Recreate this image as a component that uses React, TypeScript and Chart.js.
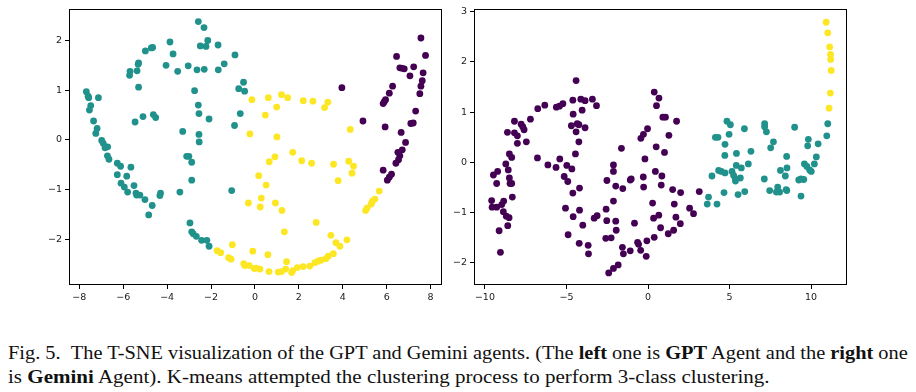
import React, { useEffect, useLayoutEffect, useRef } from "react";
import { Chart, registerables } from "chart.js";

Chart.register(...registerables);

// ---------- colours (viridis, 3 clusters) ----------
const PURPLE = "#440154";
const TEAL = "#21918c";
const YELLOW = "#fde725";

// ---------- left panel (GPT agent) ----------
const gptTeal: number[][] = [
  [-2.58, 2.38], [-2.32, 2.26], [-3.87, 1.97], [-2.15, 2.0], [-2.49, 1.89], [-2.23, 1.88], [-1.68, 1.91],
  [-4.66, 1.86], [-4.72, 1.85], [-4.99, 1.79], [-3.73, 1.73], [-0.91, 1.71], [-5.3, 1.55], [-5.32, 1.52],
  [-4.05, 1.5], [-3.04, 1.49], [-1.4, 1.53], [-5.69, 1.38], [-5.37, 1.39], [-3.52, 1.38], [-2.64, 1.41],
  [-2.31, 1.42], [-1.67, 1.41], [-5.71, 1.3], [-0.52, 1.16], [-0.74, 1.03], [-0.47, 0.98], [-5.3, 1.06],
  [-2.75, 0.99], [-7.68, 0.97], [-7.6, 0.88], [-7.57, 0.85], [-7.13, 0.85], [-7.48, 0.69], [-7.54, 0.6],
  [-2.58, 0.7], [-2.55, 0.53], [-0.67, 0.53], [-5.1, 0.47], [-4.63, 0.51], [-4.52, 0.45], [-2.09, 0.42],
  [-7.35, 0.38], [-5.46, 0.36], [-0.93, 0.29], [-7.19, 0.23], [-7.25, 0.13], [-3.29, 0.17], [-2.55, 0.11],
  [-6.98, -0.01], [-6.91, -0.07], [-6.71, -0.14], [-2.54, -0.04], [-6.83, -0.16], [-6.72, -0.32],
  [-6.65, -0.39], [-3.11, -0.33], [-3.01, -0.33], [-2.88, -0.45], [-6.27, -0.47], [-6.12, -0.53],
  [-5.65, -0.55], [-6.27, -0.7], [-5.84, -0.73], [-6.1, -0.87], [-5.95, -0.95], [-5.51, -0.92],
  [-5.8, -1.05], [-5.42, -1.07], [-5.39, -1.11], [-5.24, -1.11], [-5.01, -1.2], [-2.88, -0.81],
  [-3.42, -1.05], [-1.06, -1.02], [-4.3, -1.07], [-4.33, -1.12], [-4.68, -1.32], [-4.84, -1.51],
  [-2.96, -1.67], [-2.88, -1.85], [-2.81, -1.89], [-2.67, -1.94], [-2.43, -2.02], [-2.19, -2.02], [-2.09, -2.14],
];

const gptYellow: number[][] = [
  [-0.14, 0.81], [-0.23, 0.12], [-0.3, -1.27], [-1.72, -2.23], [-1.56, -2.27], [-1.03, -2.11], [-1.2, -2.37],
  [-1.09, -2.4], [-0.51, -2.49], [-0.46, -2.53], [-0.26, -2.53], [-0.1, -2.24], [-0.03, -2.59], [1.72, -0.25],
  [0.91, -0.34], [0.65, -0.44], [2.13, -0.42], [2.58, -0.47], [3.58, -0.49], [4.27, -0.43], [4.49, -0.53],
  [4.42, -0.67], [0.17, -0.72], [0.51, -0.91], [3.79, -0.82], [0.29, -1.17], [0.24, -1.35], [0.93, -1.27],
  [1.23, -1.42], [2.79, -1.66], [1.34, -1.85], [3.46, -1.92], [3.69, -2.07], [3.87, -2.14], [4.19, -2.01],
  [0.59, -2.31], [5.66, -1.03], [5.46, -1.19], [5.34, -1.24], [5.3, -1.29], [5.11, -1.37], [5.04, -1.42],
  [0.05, -2.58], [0.23, -2.6], [0.64, -2.65], [1.06, -2.66], [1.21, -2.65], [1.4, -2.6], [1.44, -2.45],
  [1.67, -2.67], [1.72, -2.63], [1.93, -2.57], [2.2, -2.55], [2.5, -2.54], [2.73, -2.47], [2.88, -2.44],
  [3.01, -2.42], [3.23, -2.39], [3.34, -2.34], [3.57, -2.29], [0.61, 0.85], [1.21, 0.91], [1.49, 0.85],
  [0.99, 0.66], [2.2, 0.79], [2.64, 0.78], [3.32, 0.76], [3.17, 0.65], [0.47, 0.5], [1.0, 0.06], [4.34, 0.21],
];

const gptPurple: number[][] = [
  [6.86, -0.05], [6.71, -0.2], [6.51, -0.25], [6.6, -0.32], [6.54, -0.4], [6.42, -0.47], [5.84, -0.61],
  [6.22, -0.69], [6.12, -0.75], [6.03, -0.81], [7.56, 2.05], [6.45, 1.68], [7.77, 1.7], [6.6, 1.45],
  [6.71, 1.44], [6.8, 1.43], [7.23, 1.47], [7.06, 1.29], [7.66, 1.35], [7.62, 1.19], [7.56, 1.08],
  [6.27, 1.08], [6.12, 0.94], [5.95, 0.81], [5.89, 0.77], [5.84, 0.73], [7.51, 0.93], [3.96, 1.05],
  [7.32, 0.58], [4.92, 0.38], [5.93, 0.26], [7.1, 0.33], [7.21, 0.34], [6.66, 0.15],
];

// ---------- right panel (Gemini agent) ----------
const gemPurple: number[][] = [
  [-4.41, 1.63], [-8.62, 0.6], [-8.19, 0.82], [-8.19, 0.59], [-7.78, 0.76], [-7.68, 0.71], [-7.6, 0.65],
  [-8.01, 0.53], [-8.01, 0.38], [-7.46, 0.41], [-7.21, 0.86], [-6.76, 1.07], [-6.33, 1.14], [-5.62, 1.1],
  [-5.43, 1.12], [-5.22, 1.17], [-4.61, 1.24], [-4.59, 0.96], [-4.12, 1.26], [-3.86, 1.23], [-3.41, 1.26],
  [-4.04, 1.04], [-3.16, 1.13], [-4.7, 0.73], [-4.34, 0.77], [-4.24, 0.75], [-3.86, 0.69], [-4.41, 0.61],
  [-4.24, 0.41], [-1.63, 0.28], [0.38, 1.4], [0.67, 1.28], [0.52, 1.13], [-0.44, 0.48], [-0.28, 0.56],
  [-0.03, 0.67], [0.5, 0.31], [0.91, 0.9], [1.07, 0.9], [1.75, 0.82], [1.28, 0.54], [1.01, 0.2],
  [0.45, -0.18], [0.85, -0.27], [0.81, -0.45], [1.51, -0.54], [2.0, -0.6], [3.14, -0.58], [0.28, -0.81],
  [1.61, -0.83], [0.66, -1.05], [0.34, -1.11], [1.71, -1.09], [2.55, -0.91], [2.79, -1.02], [1.98, -1.22],
  [0.77, -1.3], [1.57, -1.35], [1.24, -1.42], [0.38, -1.49], [-8.5, 0.17], [-8.36, 0.1], [-8.72, -0.03],
  [-6.78, 0.09], [-6.14, -0.05], [-5.64, -0.1], [-5.41, 0.07], [-4.45, 0.17], [-4.98, -0.06], [-4.67, -0.13],
  [-5.14, -0.28], [-4.92, -0.38], [-9.48, -0.25], [-9.22, -0.18], [-8.57, -0.15], [-8.5, -0.31],
  [-9.28, -0.42], [-8.46, -0.42], [-8.36, -0.42], [-8.32, -0.69], [-4.61, -0.61], [-4.2, -0.51],
  [-9.59, -0.76], [-9.56, -0.89], [-9.28, -0.89], [-8.97, -0.84], [-8.85, -0.77], [-8.87, -0.98],
  [-8.69, -1.07], [-8.52, -1.1], [-8.6, -1.26], [-9.13, -1.36], [-9.05, -1.79], [-5.06, -0.91], [-4.2, -0.95],
  [-4.59, -1.08], [-4.0, -1.25], [-4.9, -1.44], [-4.22, -1.61], [-3.67, -1.65], [-3.65, -1.82], [-3.3, -1.11],
  [-3.12, -1.06], [-2.52, -0.36], [-2.12, -0.05], [-2.12, -0.18], [-1.98, -0.47], [-1.55, -0.52],
  [-2.12, -0.77], [-2.57, -0.93], [-2.53, -1.16], [-1.98, -1.17], [-1.95, -1.35], [-2.59, -1.51],
  [-2.26, -1.5], [-1.09, -0.35], [-1.03, -0.33], [-0.29, -0.29], [-0.27, -0.49], [-0.19, 0.07],
  [-0.83, -1.21], [-1.57, -1.69], [-1.51, -1.82], [-1.09, -1.76], [-0.64, -1.59], [-0.58, -1.63],
  [-0.45, -1.75], [-0.07, -1.56], [-0.11, -1.87], [-2.41, -2.2], [-2.12, -2.11], [-1.83, -2.04],
];

const gemTeal: number[][] = [
  [4.84, 0.82], [5.05, 0.75], [5.91, 0.67], [7.15, 0.77], [7.15, 0.71], [7.26, 0.61], [8.99, 0.7],
  [11.02, 0.77], [10.96, 0.53], [4.13, 0.5], [4.29, 0.5], [4.97, 0.56], [4.72, 0.36], [7.69, 0.41],
  [7.52, 0.29], [9.83, 0.46], [9.79, 0.33], [10.43, 0.37], [6.31, 0.22], [5.42, 0.18], [4.71, 0.14],
  [3.92, -0.27], [4.33, -0.16], [4.49, -0.18], [4.72, -0.21], [3.71, -0.69], [3.63, -0.83], [4.23, -0.83],
  [4.66, -0.6], [5.15, -0.18], [5.25, -0.26], [5.36, -0.33], [5.36, -0.37], [5.41, -0.06], [5.72, -0.11],
  [5.66, -0.31], [6.15, -0.03], [5.52, -0.64], [5.93, -0.58], [7.13, -0.33], [8.5, 0.12], [8.12, -0.16],
  [8.52, -0.11], [8.42, -0.27], [7.46, -0.56], [7.95, -0.49], [7.87, -0.59], [8.07, -0.59], [8.47, -0.54],
  [8.51, -0.56], [10.32, 0.11], [9.59, -0.03], [9.74, -0.08], [10.2, -0.03], [9.91, -0.15], [10.01, -0.18],
  [9.24, -0.35], [9.38, -0.33], [9.55, -0.34], [9.38, -0.67],
];

const gemYellow: number[][] = [
  [10.92, 2.79], [11.02, 2.58], [11.14, 2.3], [11.19, 2.15], [11.2, 2.05], [11.23, 1.83], [11.18, 1.38], [11.1, 1.08],
];

// ---------- axes ----------
const gptXTicks = [-8, -6, -4, -2, 0, 2, 4, 6, 8];
const gptYTicks = [-2, -1, 0, 1, 2];
const gptXRange = [-8.47, 8.52];
const gptYRange = [-2.92, 2.64];

const gemXTicks = [-10, -5, 0, 5, 10];
const gemYTicks = [-2, -1, 0, 1, 2, 3];
const gemXRange = [-10.67, 12.2];
const gemYRange = [-2.44, 3.06];

const fmt = (v: number | string) => {
  const n = Number(v);
  return n < 0 ? "\u2212" + Math.abs(n) : String(n);
};

function makeScale(ticks: number[], range: number[], fitSize: number, isX: boolean) {
  return {
    type: "linear",
    min: range[0],
    max: range[1],
    afterBuildTicks: (s: any) => {
      s.ticks = ticks.map((v) => ({ value: v }));
    },
    afterFit: (s: any) => {
      if (isX) s.height = fitSize;
      else s.width = fitSize;
    },
    grid: {
      display: true,
      drawOnChartArea: false,
      drawTicks: true,
      tickLength: 4,
      tickColor: "#000",
      tickWidth: 1,
    },
    border: { display: false },
    ticks: {
      color: "#1a1a1a",
      font: { family: "DejaVu Sans", size: 9.5 },
      padding: 3,
      autoSkip: false,
      maxRotation: 0,
      callback: fmt,
    },
  };
}

const framePlugin = {
  id: "frame",
  afterDraw(chart: any) {
    const { ctx, chartArea: a } = chart;
    ctx.save();
    ctx.strokeStyle = "#000";
    ctx.lineWidth = 1;
    ctx.strokeRect(Math.round(a.left) + 0.5, Math.round(a.top) + 0.5, Math.round(a.right - a.left) - 1, Math.round(a.bottom - a.top) - 1);
    ctx.restore();
  },
};

function ds(points: number[][], color: string) {
  return {
    data: points.map((p) => ({ x: p[0], y: p[1] })),
    backgroundColor: color,
    borderColor: color,
    borderWidth: 0,
    pointRadius: 3.4,
    pointHoverRadius: 3.4,
  };
}

type PanelProps = {
  left: number;
  width: number;
  height: number;
  groups: { pts: number[][]; color: string }[];
  xTicks: number[];
  yTicks: number[];
  xRange: number[];
  yRange: number[];
  yAxisWidth: number;
  padRight: number;
};

function Panel(p: PanelProps) {
  const ref = useRef<HTMLCanvasElement | null>(null);
  useEffect(() => {
    if (!ref.current) return;
    const chart = new Chart(ref.current, {
      type: "scatter",
      data: { datasets: p.groups.map((g) => ds(g.pts, g.color)) as any },
      options: {
        responsive: false,
        animation: false,
        events: [],
        layout: { padding: { left: 0, top: 7, right: p.padRight, bottom: 0 } },
        plugins: { legend: { display: false }, tooltip: { enabled: false } },
        scales: {
          x: makeScale(p.xTicks, p.xRange, p.height - 285, true) as any,
          y: makeScale(p.yTicks, p.yRange, p.yAxisWidth, false) as any,
        },
      },
      plugins: [framePlugin],
    });
    return () => chart.destroy();
  }, []);
  return (
    <canvas
      ref={ref}
      width={p.width}
      height={p.height}
      style={{ position: "absolute", left: p.left, top: 0, width: p.width, height: p.height }}
    />
  );
}

const captionLine1 = [
  ["Fig. 5.\u00a0\u00a0The T-SNE visualization of the GPT and Gemini agents. (The ", false],
  ["left", true],
  [" one is ", false],
  ["GPT", true],
  [" Agent and the ", false],
  ["right", true],
  [" one", false],
] as [string, boolean][];
const captionLine2 = [
  ["is ", false],
  ["Gemini", true],
  [" Agent). K-means attempted the clustering process to perform 3-class clustering.", false],
] as [string, boolean][];

export default function App() {
  const l1 = useRef<HTMLSpanElement | null>(null);
  const l2 = useRef<HTMLSpanElement | null>(null);
  useLayoutEffect(() => {
    if (!l1.current || !l2.current) return;
    const s1 = 900 / l1.current.offsetWidth;
    const s2 = 762 / l2.current.offsetWidth;
    l1.current.style.transform = `scaleX(${s1})`;
    l2.current.style.transform = `scaleX(${s2})`;
  }, []);
  const renderLine = (parts: [string, boolean][]) =>
    parts.map(([t, b], i) => (b ? <b key={i}>{t}</b> : <span key={i}>{t}</span>));
  return (
    <div style={{ position: "fixed", left: 0, top: 0, width: 916, height: 392, background: "#fff", overflow: "hidden" }}>
      <Panel
        left={0}
        width={446}
        height={312}
        groups={[
          { pts: gptTeal, color: TEAL },
          { pts: gptYellow, color: YELLOW },
          { pts: gptPurple, color: PURPLE },
        ]}
        xTicks={gptXTicks}
        yTicks={gptYTicks}
        xRange={gptXRange}
        yRange={gptYRange}
        yAxisWidth={69}
        padRight={4}
      />
      <Panel
        left={446}
        width={470}
        height={312}
        groups={[
          { pts: gemPurple, color: PURPLE },
          { pts: gemTeal, color: TEAL },
          { pts: gemYellow, color: YELLOW },
        ]}
        xTicks={gemXTicks}
        yTicks={gemYTicks}
        xRange={gemXRange}
        yRange={gemYRange}
        yAxisWidth={28}
        padRight={69}
      />
      <div
        style={{
          position: "absolute",
          left: 8,
          top: 341,
          fontFamily: "'Liberation Serif', serif",
          fontSize: 19,
          lineHeight: "24px",
          color: "#111",
          whiteSpace: "nowrap",
        }}
      >
        <div>
          <span ref={l1} style={{ display: "inline-block", transformOrigin: "left center" }}>
            {renderLine(captionLine1)}
          </span>
        </div>
        <div>
          <span ref={l2} style={{ display: "inline-block", transformOrigin: "left center" }}>
            {renderLine(captionLine2)}
          </span>
        </div>
      </div>
    </div>
  );
}
